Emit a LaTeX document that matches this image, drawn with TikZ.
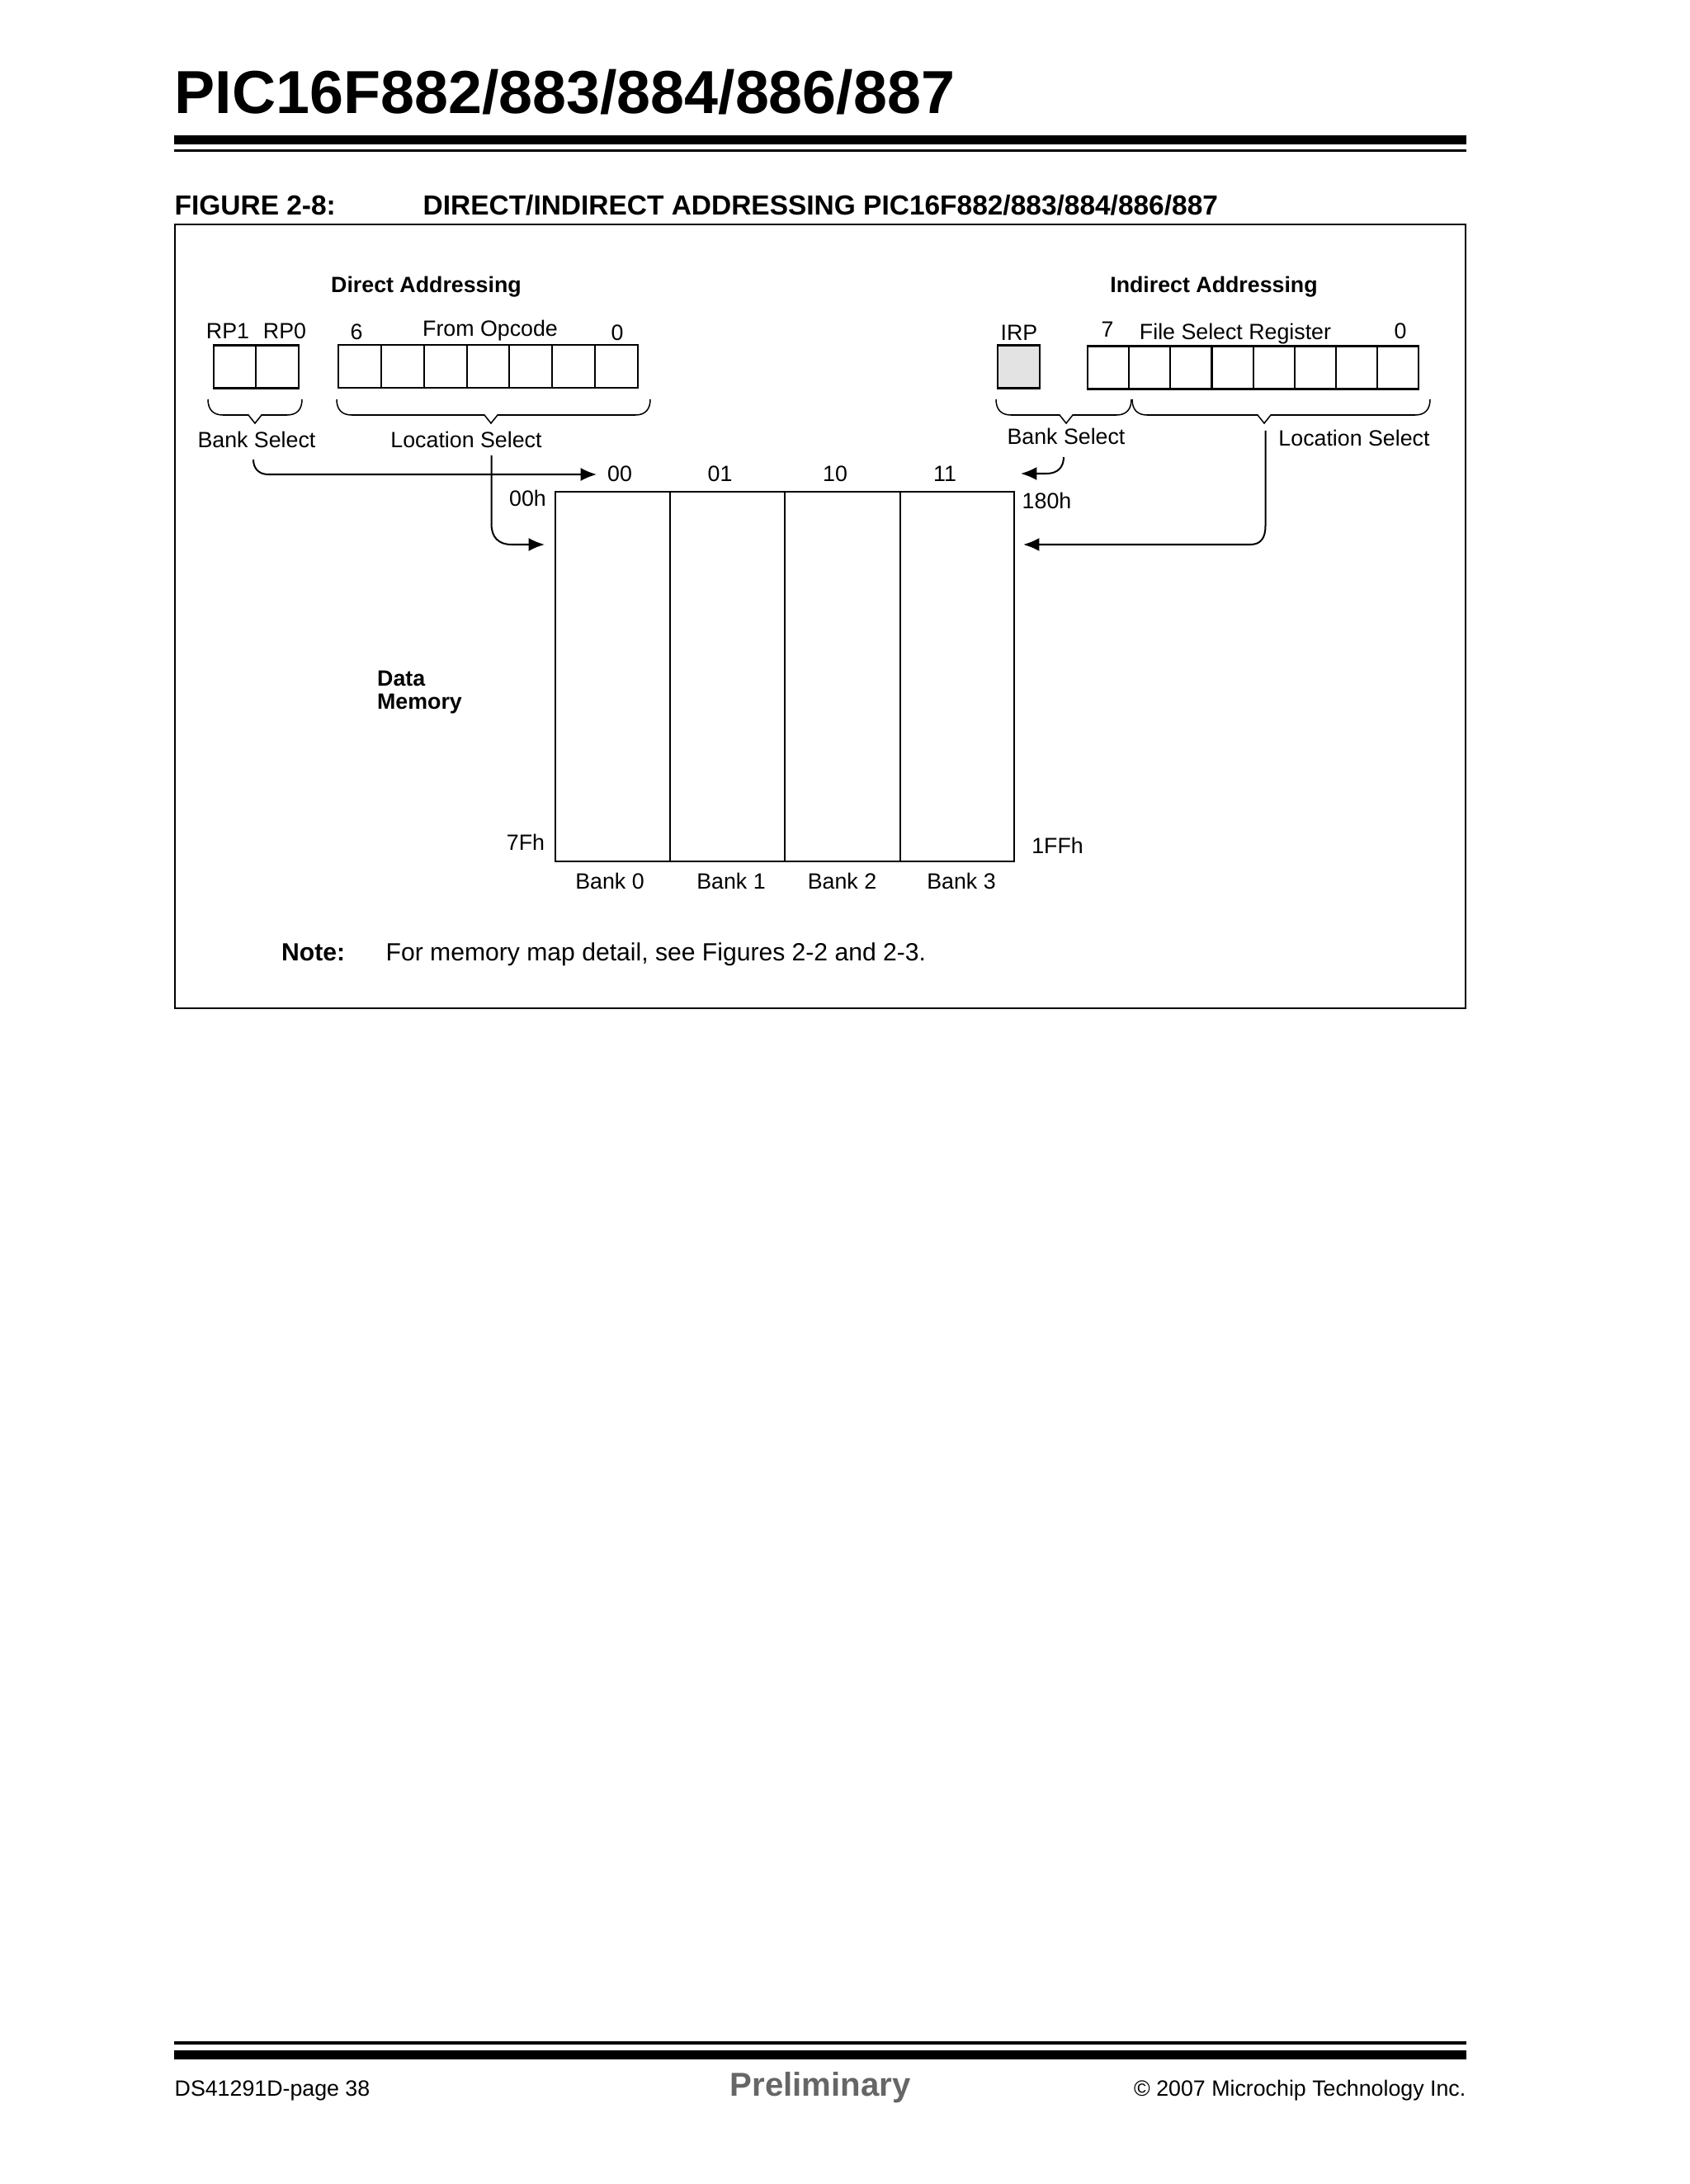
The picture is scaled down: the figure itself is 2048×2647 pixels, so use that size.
\documentclass[tikz,border=0pt]{standalone}
\usepackage{fontspec}
\setmainfont{Liberation Sans}
\usetikzlibrary{arrows.meta}
\def\pxu{0.29883pt}
\tikzset{
  x=\pxu, y=-\pxu,
  lbl/.style={inner sep=0pt, font=\fontsize{8}{9.5}\selectfont},
  blbl/.style={inner sep=0pt, font=\fontsize{8}{9.5}\selectfont\bfseries},
  regcell/.style={draw=black, line width=0.6pt, inner sep=0pt, minimum height=52*\pxu},
  bankbox/.style={draw=black, line width=0.6pt, inner sep=0pt, minimum height=448*\pxu},
  bracepath/.style={draw=black, line width=0.45pt},
  conn/.style={draw=black, line width=0.6pt, -{Latex[length=5.8pt,width=4.8pt]}},
  rulebar/.style={fill=black, draw=none},
}
\newcommand{\regbrace}[4]{% x1,x2,tip,name
  \draw[bracepath] (#1,484) .. controls (#1,496) and (#1+6,503) .. (#1+18,503)
    -- (#3-8,503) -- (#3,513) -- (#3+8,503) -- (#2-18,503)
    .. controls (#2-6,503) and (#2,496) .. (#2,484);
}
\begin{document}
\begin{tikzpicture}
\useasboundingbox (0,0) rectangle (2048,2647);
\fill[white] (0,0) rectangle (2048,2647);
% header
\node[inner sep=0pt, anchor=base west, font=\fontsize{22}{26}\selectfont\bfseries] (title) at (211,138) {PIC16F882/883/884/886/887};
\fill[rulebar] (211,164) rectangle (1777,175);
\fill[rulebar] (211,181) rectangle (1777,184.5);
\node[inner sep=0pt, anchor=base west, font=\fontsize{10}{12}\selectfont\bfseries] (figno) at (211,260.5) {FIGURE 2-8:};
\node[inner sep=0pt, anchor=base west, font=\fontsize{10}{12}\selectfont\bfseries] (figtitle) at (512,260.5) {DIRECT/INDIRECT ADDRESSING PIC16F882/883/884/886/887};
% frame
\draw[black, line width=0.75pt] (212,272) rectangle (1776,1222);
% headings
\node[blbl] (hdirect) at (516.5,348) {Direct Addressing};
\node[blbl] (hindirect) at (1471,348) {Indirect Addressing};
% direct labels
\node[lbl] (lrp1) at (276,401) {RP1};
\node[lbl] (lrp0) at (345,401) {RP0};
\node[lbl] (l6) at (432,402) {6};
\node[lbl] (lopc) at (594,401) {From Opcode};
\node[lbl] (l0a) at (748,403) {0};
% direct cells
\foreach \i in {0,1}{
  \node[regcell, minimum width=51.6*\pxu] (rp\i) at ({284.3+51.6*\i},444.5) {};
}
\foreach \i in {0,...,6}{
  \node[regcell, minimum width=51.8*\pxu] (op\i) at ({436+51.8*\i},444) {};
}
% indirect labels
\node[lbl] (lirp) at (1235,403) {IRP};
\node[lbl] (l7) at (1342,399) {7};
\node[lbl] (lfsr) at (1497,405) {File Select Register};
\node[lbl] (l0b) at (1697,401) {0};
% indirect cells
\node[regcell, fill=black!11, minimum width=51*\pxu] (irp) at (1234.5,444.5) {};
\foreach \i in {0,...,7}{
  \node[regcell, minimum width=50.15*\pxu] (fsr\i) at ({1343.1+50.15*\i},445.5) {};
}
% braces
\regbrace{252}{366}{309}{}
\regbrace{408}{788}{595}{}
\regbrace{1207}{1371}{1292}{}
\regbrace{1372}{1733}{1532}{}
% select labels
\node[lbl] (bsd) at (311,533) {Bank Select};
\node[lbl] (lsd) at (565,533) {Location Select};
\node[lbl] (bsi) at (1292,529) {Bank Select};
\node[lbl] (lsi) at (1641,531) {Location Select};
% bank column labels
\node[lbl] (b00) at (751,574.5) {00};
\node[lbl] (b01) at (872.5,574.5) {01};
\node[lbl] (b10) at (1012,574.5) {10};
\node[lbl] (b11) at (1145,574.5) {11};
\node[lbl] (h00) at (639.5,604) {00h};
\node[lbl] (h180) at (1268.5,607) {180h};
\node[lbl] (h7f) at (637,1020.5) {7Fh};
\node[lbl] (h1ff) at (1281.5,1025) {1FFh};
% memory
\node[bankbox, minimum width=139*\pxu] (bank0) at (742.5,820) {};
\node[bankbox, minimum width=139*\pxu] (bank1) at (881.5,820) {};
\node[bankbox, minimum width=140*\pxu] (bank2) at (1021,820) {};
\node[bankbox, minimum width=138*\pxu] (bank3) at (1160,820) {};
\node[lbl] (lb0) at (739,1068) {Bank 0};
\node[lbl] (lb1) at (886,1068) {Bank 1};
\node[lbl] (lb2) at (1020.5,1068) {Bank 2};
\node[lbl] (lb3) at (1165,1068) {Bank 3};
\node[blbl, anchor=west] (ldata) at (456.5,822) {Data};
\node[blbl, anchor=west] (lmem) at (456.5,853) {Memory};
% note
\node[inner sep=0pt, anchor=base west, font=\fontsize{9}{11}\selectfont\bfseries] (notek) at (340.5,1164) {Note:};
\node[inner sep=0pt, anchor=base west, font=\fontsize{9}{11}\selectfont] (notet) at (467,1164) {For memory map detail, see Figures 2-2 and 2-3.};
% connector ends
\coordinate (cbd) at (307,557);
\coordinate (cbde) at (723,575);
\coordinate (cld) at (595.5,552);
\coordinate (clde) at (660,660);
\coordinate (cbi) at (1289,554);
\coordinate (cbie) at (1237,574);
\coordinate (cli) at (1533.5,522);
\coordinate (clie) at (1240,660);
\draw[conn] (cbd) .. controls (307,568) and (314,575) .. (325,575) -- (cbde);
\draw[conn] (cld) -- (595.5,635) .. controls (595.5,651) and (604,660) .. (620,660) -- (clde);
\draw[conn] (cbi) .. controls (1289,566) and (1282,574) .. (1268,574) -- (cbie);
\draw[conn] (cli) -- (1533.5,637) .. controls (1533.5,652) and (1528,660) .. (1515,660) -- (clie);
% footer
\fill[rulebar] (211,2474) rectangle (1777,2478);
\fill[rulebar] (211,2485) rectangle (1777,2496);
\node[inner sep=0pt, anchor=base west, font=\fontsize{8}{10}\selectfont] (fl) at (211,2540) {DS41291D-page 38};
\node[inner sep=0pt, anchor=base, text=black!60, font=\fontsize{12}{14}\selectfont\bfseries] (fc) at (994,2540.5) {Preliminary};
\node[inner sep=0pt, anchor=base east, font=\fontsize{8}{10}\selectfont] (fr) at (1777,2540) {© 2007 Microchip Technology Inc.};
\end{tikzpicture}
\end{document}
